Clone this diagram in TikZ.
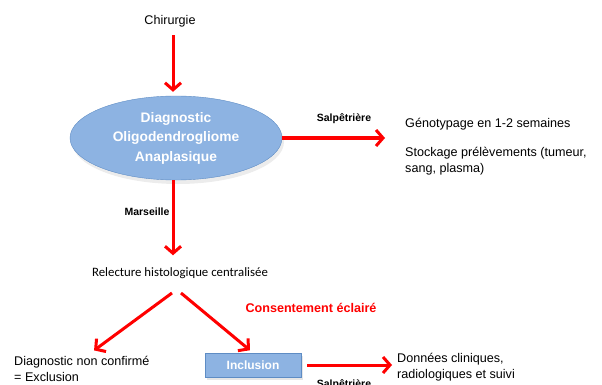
\documentclass[tikz,border=0pt]{standalone}
\usepackage{fontspec}
\setmainfont{Liberation Sans}
\newfontfamily\calibri{Carlito}
\usetikzlibrary{arrows.meta,shadows,shapes.geometric}
\definecolor{boxblue}{HTML}{8DB3E2}
\definecolor{boxedge}{HTML}{5E8CC4}
\begin{document}
\begin{tikzpicture}
		[x=1pt,y=-1pt,
		ell/.style ={ellipse, draw=boxedge, fill=boxblue, minimum width=212pt, minimum height=84pt, inner sep=0pt,
		text=white, font=\bfseries\fontsize{13.8}{19.5}\selectfont, align=center,
		drop shadow={opacity=0.15, shadow xshift=2pt, shadow yshift=-4pt}},
		incl/.style ={rectangle, draw=boxedge, fill=boxblue, minimum width=96pt, minimum height=24pt,
		text=white, font=\bfseries\fontsize{12}{14}\selectfont,
		drop shadow={opacity=0.2, shadow xshift=2pt, shadow yshift=-3pt}},
		txt/.style ={font=\fontsize{12.6}{15.5}\selectfont, align=left, inner sep=0pt},
		lab/.style ={font=\bfseries\fontsize{10.5}{12}\selectfont, inner sep=0pt},
		line/.style ={red, line width=3pt, -{Straight Barb[length=7pt,width=16pt]}},
		]
		\useasboundingbox (0,0) rectangle (602,385);
		\clip (0,0) rectangle (602,385);

		\draw (170,21) node[txt] (chir) {Chirurgie};
		\draw (176,138) node[ell] (diag) {Diagnostic\\Oligodendrogliome\\Anaplasique};
		\draw (405,124) node[txt, anchor=west] (geno) {Génotypage en 1-2 semaines};
		\draw (405,161) node[txt, anchor=west] (stock) {Stockage prélèvements (tumeur,\\sang, plasma)};
		\draw (180,273) node[txt, font=\calibri\fontsize{12.8}{14}\selectfont] (relec) {Relecture histologique centralisée};
		\draw (14,369) node[txt, anchor=west] (exclu) {Diagnostic non confirmé\\ = Exclusion};
		\draw (253,365) node[incl] (inclu) {Inclusion};
		\draw (397,367) node[txt, anchor=west] (donnees) {Données cliniques,\\radiologiques et suivi};

		\draw (344,119) node[lab] (salp1) {Salpêtrière};
		\draw (147,212) node[lab] (mars) {Marseille};
		\draw (344,379) node[lab, anchor=north] (salp2) {Salpêtrière};
		\draw (311,308) node[lab, text=red, font=\bfseries\fontsize{12.6}{14}\selectfont] (consent) {Consentement éclairé};

		\coordinate (fork) at (176,293);

		\path[line]
		(chir.south -| 173,0) edge[shorten <=8pt, shorten >=4pt] (diag.north -| 173,0)
		(diag.east) edge[shorten >=20pt] (diag.east -| geno.west)
		(diag.south -| 173,0) edge[shorten >=12pt] (relec.north -| 173,0)
		([xshift=-4pt]fork) edge[shorten >=10pt] (exclu.north -| 86,0)
		([xshift=5pt]fork) edge[shorten >=4pt] (inclu.north)
		([xshift=6pt]inclu.east) edge[shorten >=5pt] (inclu.east -| donnees.west);
	\end{tikzpicture}
\end{document}
